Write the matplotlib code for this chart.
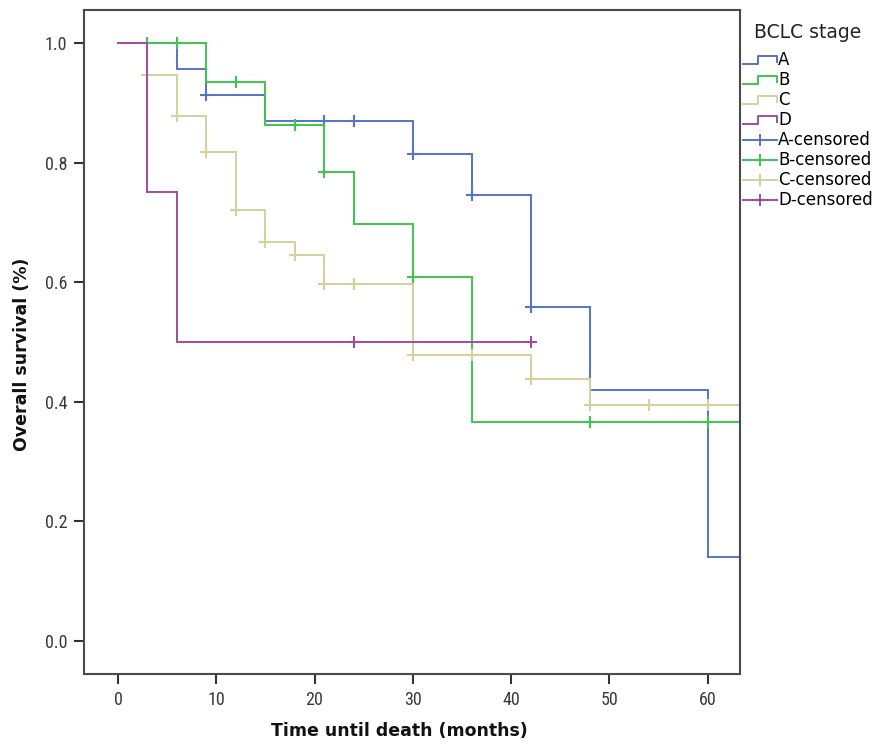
import numpy as np
import matplotlib
matplotlib.use("Agg")
import matplotlib.pyplot as plt
from matplotlib.lines import Line2D
from matplotlib.legend_handler import HandlerBase
from matplotlib import font_manager

# Kaplan-Meier steps per BCLC stage: times where survival drops, and levels after each drop
a_times = [0, 6, 9, 15, 30, 36, 42, 48, 60]
a_surv = [1.0, 0.957, 0.913, 0.869, 0.814, 0.746, 0.559, 0.420, 0.140]
a_cens = [9, 21, 24, 30, 36, 42]
a_end = 64

b_times = [0, 9, 15, 21, 24, 30, 36]
b_surv = [1.0, 0.935, 0.863, 0.784, 0.697, 0.609, 0.366]
b_cens = [3, 6, 12, 18, 21, 30, 48, 60]
b_end = 64

c_times = [0, 3, 6, 9, 12, 15, 18, 21, 30, 42, 48]
c_surv = [1.0, 0.947, 0.878, 0.818, 0.721, 0.667, 0.645, 0.597, 0.478, 0.438, 0.394]
c_cens = [3, 6, 9, 12, 15, 18, 21, 24, 30, 36, 42, 48, 54, 60]
c_end = 64

d_times = [0, 3, 6]
d_surv = [1.0, 0.75, 0.5]
d_cens = [24, 42]
d_end = 42

stages = ["A", "B", "C", "D"]
colors = ["#5673c8", "#3ec64e", "#d6cf9e", "#a04c9e"]

x_ticks = [0, 10, 20, 30, 40, 50, 60]
y_ticks = [0.0, 0.2, 0.4, 0.6, 0.8, 1.0]


def pick_font(names):
    for n in names:
        try:
            font_manager.findfont(n, fallback_to_default=False)
            return n
        except Exception:
            pass
    return "DejaVu Sans"


narrow = pick_font(["Liberation Sans Narrow", "Roboto Condensed", "DejaVu Sans"])
plain = "DejaVu Sans"


def surv_at(times, surv, t):
    i = np.searchsorted(times, t, side="right") - 1
    return surv[i]


class StepHandler(HandlerBase):
    # small step glyph used for the survival-function legend rows
    def create_artists(self, legend, orig_handle, xdescent, ydescent,
                       width, height, fontsize, trans):
        x0, w = -xdescent, width
        y0, h = -ydescent, height
        xs = [x0, x0 + 0.45 * w, x0 + 0.45 * w, x0 + w, x0 + w]
        ys = [y0 + 0.1 * h, y0 + 0.1 * h, y0 + 0.8 * h, y0 + 0.8 * h, y0 + 0.3 * h]
        ln = Line2D(xs, ys, color=orig_handle.get_color(),
                    lw=orig_handle.get_linewidth(), transform=trans)
        return [ln]


fig = plt.figure(figsize=(8.76, 7.44), dpi=100)
ax = fig.add_axes([84 / 876, 70 / 744, 656 / 876, 664 / 744])

data = [
    (a_times, a_surv, a_cens, a_end),
    (b_times, b_surv, b_cens, b_end),
    (c_times, c_surv, c_cens, c_end),
    (d_times, d_surv, d_cens, d_end),
]

step_handles = []
cens_handles = []
for (t, s, cens, end), col, name in zip(data, colors, stages):
    tt = list(t) + [end]
    ss = list(s) + [s[-1]]
    ln, = ax.step(tt, ss, where="post", color=col, lw=1.4, solid_joinstyle="miter")
    cy = [surv_at(t, s, c) for c in cens]
    ax.plot(cens, cy, ls="none", marker="+", ms=8, mew=1.5, color=col)
    step_handles.append(ln)
    cens_handles.append(Line2D([], [], color=col, lw=1.4, marker="+", ms=9, mew=1.4))

ax.set_xlim(-3.46, 63.3)
ax.set_ylim(-0.055, 1.055)
ax.set_xticks(x_ticks)
ax.set_yticks(y_ticks)
ax.set_xticklabels([str(v) for v in x_ticks])
ax.set_yticklabels(["%.1f" % v for v in y_ticks])

for sp in ax.spines.values():
    sp.set_color("#4a4a4a")
    sp.set_linewidth(1.5)
ax.tick_params(direction="out", length=7, width=1.5, color="#333333",
               labelcolor="#3a3a3a", labelsize=13, pad=5)
for lab in ax.get_xticklabels() + ax.get_yticklabels():
    lab.set_family(narrow)

ax.set_xlabel("Time until death (months)", family=plain, fontweight="bold",
              fontsize=12.5, color="#111111")
ax.set_ylabel("Overall survival (%)", family=plain, fontweight="bold",
              fontsize=12.5, color="#111111")
ax.xaxis.set_label_coords(0.48, -0.086)
ax.xaxis.label.set_va("center")
ax.yaxis.set_label_coords(-0.094, 0.482)
ax.yaxis.label.set_va("center")
ax.yaxis.label.set_ha("center")

# legend title drawn on its own so the gap above the first row can be set freely
fig.text(808 / 876, 1 - 33 / 744, "BCLC stage", family=plain, fontsize=13.5,
         color="#222222", ha="center", va="center")

labels = stages + [s + "-censored" for s in stages]
handles = step_handles + cens_handles
hmap = {h: StepHandler() for h in step_handles}
leg = fig.legend(handles, labels, handler_map=hmap, loc="upper left",
                 bbox_to_anchor=(740 / 876, 1 - 48 / 744), frameon=False,
                 prop={"family": plain, "size": 12},
                 handlelength=2.0, handletextpad=0.1, labelspacing=0.12,
                 borderaxespad=0, borderpad=0.2)

fig.savefig("out.png", dpi=100, facecolor="white")
